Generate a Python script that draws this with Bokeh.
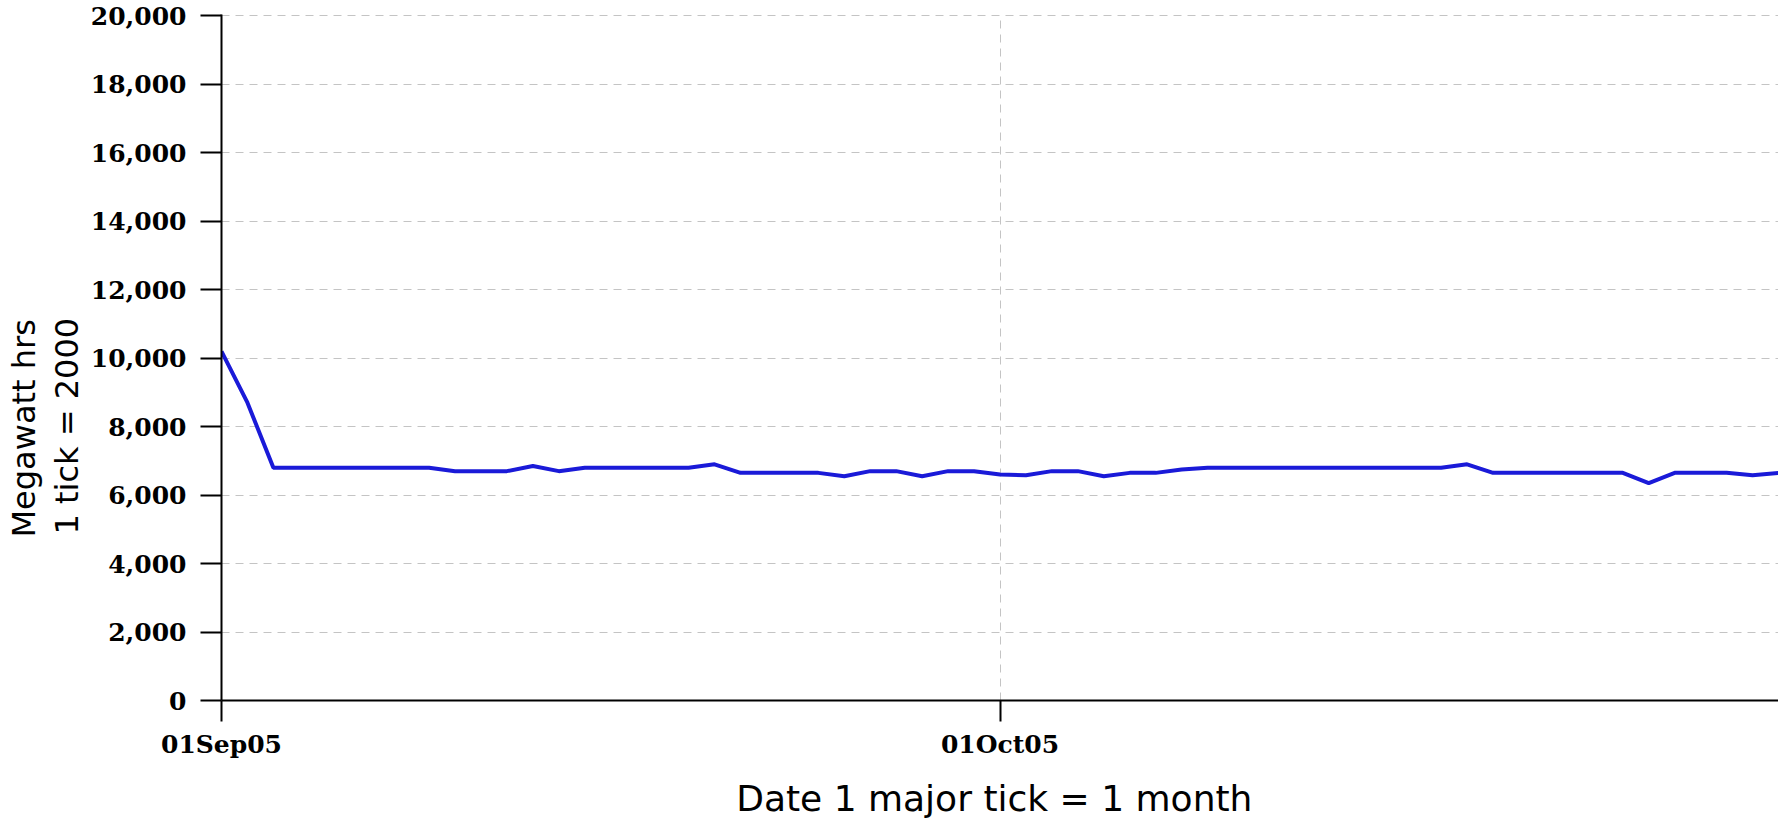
import pandas as pd
from bokeh.plotting import figure
from bokeh.models import (FixedTicker, DatetimeTickFormatter, NumeralTickFormatter,
                          Range1d, Title, ColumnDataSource)
from bokeh.embed import file_html
from bokeh.resources import INLINE

# ---- data ----
dates = pd.date_range("2005-09-01", "2005-10-31", freq="D")
megawatt_hrs = [
    10200, 8700, 6800, 6800, 6800, 6800, 6800, 6800, 6800, 6700,
    6700, 6700, 6850, 6700, 6800, 6800, 6800, 6800, 6800, 6900,
    6650, 6650, 6650, 6650, 6550, 6700, 6700, 6550, 6700, 6700,
    6600, 6580, 6700, 6700, 6550, 6650, 6650, 6750, 6800, 6800,
    6800, 6800, 6800, 6800, 6800, 6800, 6800, 6800, 6900, 6650,
    6650, 6650, 6650, 6650, 6650, 6350, 6650, 6650, 6650, 6580,
    6650,
]
x_tick_dates = ["2005-09-01", "2005-10-01"]
y_ticks = [0, 2000, 4000, 6000, 8000, 10000, 12000, 14000, 16000, 18000, 20000]
x_title = "Date  1 major tick = 1 month"
y_title_lines = ["Megawatt hrs", "1 tick = 2000"]

source = ColumnDataSource(dict(date=dates, mwh=megawatt_hrs))

p = figure(width=1778, height=821, x_axis_type="datetime",
           output_backend="svg", toolbar_location=None,
           min_border_left=221, min_border_right=0,
           min_border_top=14, min_border_bottom=117)
p.x_range = Range1d(dates[0], dates[-1])
p.y_range = Range1d(y_ticks[0], y_ticks[-1] * 1.002)
p.outline_line_color = None
p.background_fill_color = "white"
p.border_fill_color = "white"

p.line("date", "mwh", source=source, line_color="#1a1ad8", line_width=4)

# ---- axes ----
x_tick_ms = [pd.Timestamp(d).value // 10**6 for d in x_tick_dates]
xt = FixedTicker(ticks=x_tick_ms)
yt = FixedTicker(ticks=y_ticks)
p.xaxis.ticker = xt
p.yaxis.ticker = yt
fmt = "%d%b%y"
p.xaxis.formatter = DatetimeTickFormatter(
    microseconds=fmt, milliseconds=fmt, seconds=fmt, minsec=fmt, minutes=fmt,
    hourmin=fmt, hours=fmt, days=fmt, months=fmt, years=fmt)
p.yaxis.formatter = NumeralTickFormatter(format="0,0")

for ax in (p.xaxis, p.yaxis):
    ax.axis_line_width = 2
    ax.axis_line_color = "black"
    ax.major_tick_line_width = 2
    ax.major_tick_line_color = "black"
    ax.major_tick_out = 21
    ax.major_tick_in = 0
    ax.minor_tick_line_color = None
    ax.major_label_text_font = "DejaVu Serif"
    ax.major_label_text_font_style = "bold"
    ax.major_label_text_font_size = "25px"
    ax.major_label_text_color = "black"

p.yaxis.major_label_standoff = 14
p.xaxis.major_label_standoff = 8

p.xaxis.axis_label = x_title
p.xaxis.axis_label_text_font = "DejaVu Sans"
p.xaxis.axis_label_text_font_style = "normal"
p.xaxis.axis_label_text_font_size = "36px"
p.xaxis.axis_label_text_color = "black"
p.xaxis.axis_label_standoff = 16

# ---- grids ----
p.xgrid.ticker = xt
p.ygrid.ticker = yt
for g in (p.xgrid, p.ygrid):
    g.grid_line_color = "#c4c4c4"
    g.grid_line_dash = "8 6"
    g.grid_line_width = 1

# ---- y title: two rotated lines, each centred lower than the frame centre ----
# added nearest-to-axis first
for txt, off, so in [(y_title_lines[1], 166, 4), (y_title_lines[0], 163, 2)]:
    p.add_layout(Title(text=txt, align="left", offset=off, standoff=so,
                       text_font="DejaVu Sans", text_font_style="normal",
                       text_font_size="32px", text_color="black"), "left")

open("out.html", "w").write(file_html(p, INLINE))
